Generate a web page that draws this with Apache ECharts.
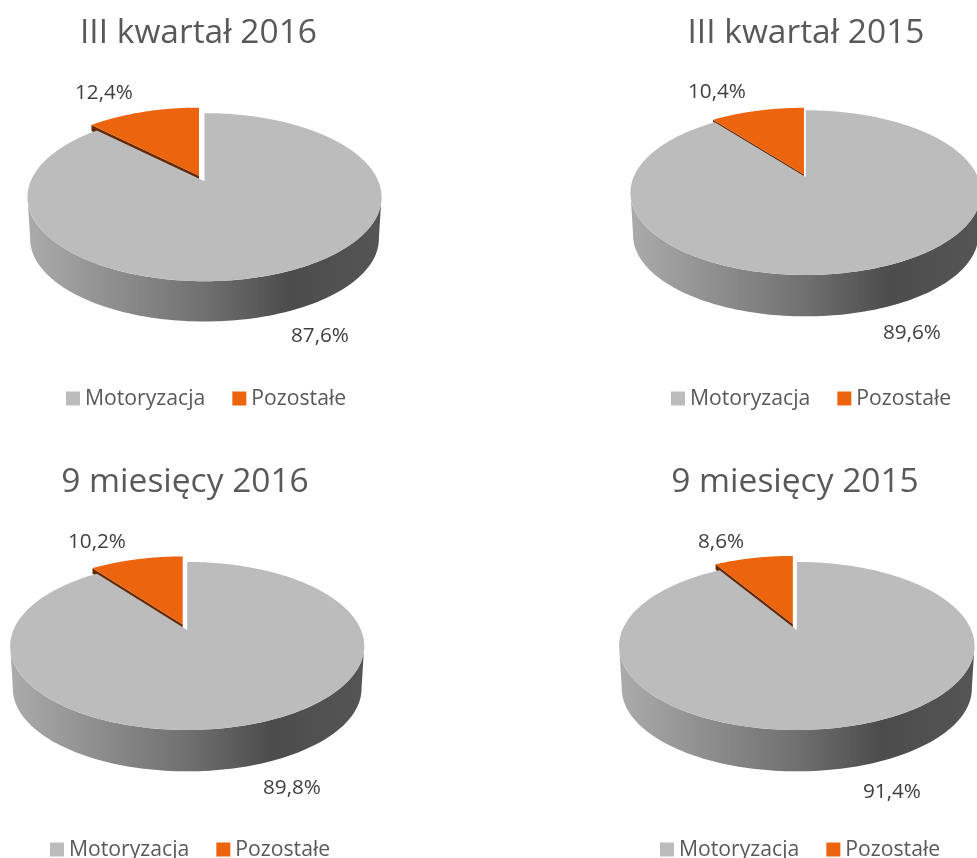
<!DOCTYPE html>
<html><head><meta charset="utf-8">
<style>html,body{margin:0;padding:0;background:#fff}#c{width:977px;height:858px}</style>
<script src="https://cdn.jsdelivr.net/npm/echarts@6/dist/echarts.min.js"></script>
</head><body><div id="c"></div>
<script>
const titles = ['III kwartał 2016','III kwartał 2015','9 miesięcy 2016','9 miesięcy 2015'];
const categories = ['Motoryzacja','Pozostałe'];
const motoryzacja = [87.6,89.6,89.8,91.4];
const pozostale = [12.4,10.4,10.2,8.6];

// panel layout: pie apex, explode offset, scale, caption & label centres, legend left/top
const layout = [
 {cx:204.5,ay:181.2,ex:-5.5,ey:-5.5,dz:6,sx:1,sy:1,depth:41,tx:198.5,ty:33,l1:[104,93],l2:[320,336],lx:66,ly:388},
 {cx:805.7,ay:177,ex:-1.7,ey:-2.5,dz:2.5,sx:0.99,sy:0.98,depth:42,tx:806,ty:33,l1:[717,92],l2:[912,333],lx:671,ly:388},
 {cx:187.2,ay:630,ex:-4.5,ey:-5.5,dz:5.5,sx:1,sy:1,depth:42,tx:185,ty:482,l1:[97,542],l2:[292,788],lx:50,ly:839},
 {cx:796.8,ay:630,ex:-4,ey:-6,dz:5.5,sx:1.004,sy:1,depth:42,tx:795,ty:482,l1:[721,542],l2:[892,792],lx:660,ly:839}
];
const B=0.19, A=81, C=173.8;
function pt(L,cx,ay,ang){ // ang measured clockwise from 12 o'clock
  const u=Math.sin(ang), v=Math.cos(ang), w=1+B*v;
  return [cx+C*L.sx*u/w, ay-A*L.sy*v/w];
}
const fmt=v=>v.toFixed(1).replace('.',',')+'%';
const N=240;
const labelFont='20.7px "Open Sans"';

function renderGray(panel){return function(params,api){
  const L=layout[panel], val=api.value(0), f=(100-val)/100;
  const s=[[L.cx,L.ay]];
  for(let i=0;i<=N;i++){s.push(pt(L,L.cx,L.ay,2*Math.PI*i/N*(1-f)));}
  const ring=[];for(let i=0;i<N;i++)ring.push(pt(L,L.cx,L.ay,2*Math.PI*i/N));
  let ri=0,li=0;ring.forEach((p,i)=>{if(p[0]>ring[ri][0])ri=i;if(p[0]<ring[li][0])li=i;});
  const front=[];for(let i=ri;i<=li;i++)front.push(ring[i]);
  const midY=L.ay+16, wall=front.slice();
  for(let i=front.length-1;i>=0;i--){const p=front[i];wall.push([L.cx+(p[0]-L.cx)*0.985,midY+L.depth+(p[1]-midY)*0.985+0.6]);}
  return {type:'group',children:[
    {type:'polygon',shape:{points:wall},style:{fill:new echarts.graphic.LinearGradient(0,0,1,0,[
      {offset:0,color:'#ababab'},{offset:0.5,color:'#707070'},{offset:0.74,color:'#4c4c4c'},{offset:1,color:'#555555'}])}},
    {type:'polygon',shape:{points:s},style:{fill:'#bcbcbc'}},
    {type:'text',style:{text:fmt(val),x:L.l2[0],y:L.l2[1],align:'center',verticalAlign:'middle',font:labelFont,fill:'#404040'}}
  ]};
}}
function renderOrange(panel){return function(params,api){
  const L=layout[panel], val=api.value(0), f=val/100;
  const cx=L.cx+L.ex, ay=L.ay+L.ey;
  const s=[[cx,ay]];
  for(let i=0;i<=80;i++){s.push(pt(L,cx,ay,-2*Math.PI*f*i/80));}
  const tip=pt(L,cx,ay,-2*Math.PI*f);
  return {type:'group',children:[
    {type:'polygon',shape:{points:[[cx,ay],tip,[tip[0],tip[1]+L.dz],[cx,ay+L.dz]]},style:{fill:'#652804'}},
    {type:'polygon',shape:{points:s},style:{fill:'#ec640e'}},
    {type:'text',style:{text:fmt(val),x:L.l1[0],y:L.l1[1],align:'center',verticalAlign:'middle',font:labelFont,fill:'#404040'}}
  ]};
}}
const series=[];
layout.forEach((L,i)=>{
  series.push({type:'custom',name:categories[1],coordinateSystem:'none',silent:true,animation:false,clip:false,
    itemStyle:{color:'#ec640e'},data:[[pozostale[i]]],renderItem:renderOrange(i)});
  series.push({type:'custom',name:categories[0],coordinateSystem:'none',silent:true,animation:false,clip:false,
    itemStyle:{color:'#bcbcbc'},data:[[motoryzacja[i]]],renderItem:renderGray(i)});
});
const chart=echarts.init(document.getElementById('c'),null,{renderer:'canvas'});
chart.setOption({
  backgroundColor:'#ffffff',animation:false,
  title:layout.map((L,i)=>({text:titles[i],left:L.tx,top:L.ty,textAlign:'center',textVerticalAlign:'middle',padding:0,
    textStyle:{fontFamily:'Open Sans',fontWeight:'normal',fontSize:33.5,color:'#595959'}})),
  legend:layout.map((L,i)=>({data:categories,left:L.lx,top:L.ly,orient:'horizontal',padding:0,icon:'rect',itemWidth:14,itemHeight:14,itemGap:27,selectedMode:false,
    textStyle:{fontFamily:'Open Sans',fontSize:21.2,color:'#595959'}})),
  series
});
</script></body></html>
